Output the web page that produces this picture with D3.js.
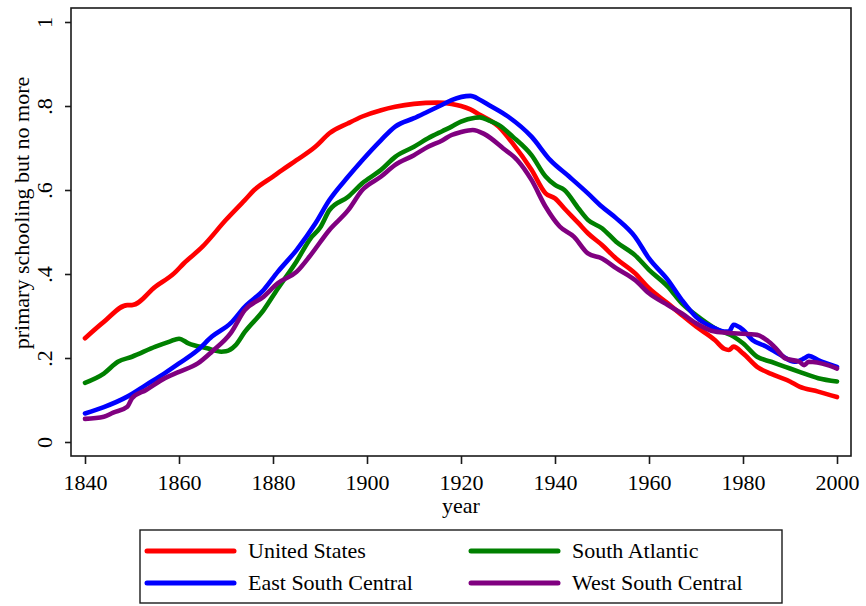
<!DOCTYPE html>
<html>
<head>
<meta charset="utf-8">
<script src="https://cdn.jsdelivr.net/npm/d3@7"></script>
<style>
  html, body { margin: 0; padding: 0; background: #fff; }
  svg { display: block; font-family: "Liberation Serif", "Times New Roman", serif; }
</style>
</head>
<body>
<svg id="chart" width="866" height="606"></svg>
<script>
// ---- data ----
const usYears = [1840,1844,1849,1850,1855,1859,1861,1865,1870,1874,1876,1880,1882,1885,1889,1892,1896,1899,1903,1906,1910,1915,1918,1920,1922,1924,1928,1931,1935,1938,1940,1942,1945,1947,1950,1953,1957,1960,1964,1967,1970,1974,1976,1977,1978,1980,1983,1986,1990,1992,1996,2000];
const usValues = [.247,.286,.326,.326,.37,.402,.425,.465,.529,.576,.60,.632,.648,.671,.703,.735,.759,.775,.79,.798,.805,.808,.805,.80,.792,.779,.751,.711,.648,.592,.58,.556,.521,.497,.469,.437,.402,.366,.33,.302,.275,.243,.222,.219,.227,.211,.179,.162,.144,.132,.12,.107];

const saYears = [1840,1844,1847,1850,1855,1858,1860,1862,1866,1869,1870,1872,1874,1878,1881,1885,1888,1890,1892,1896,1899,1903,1906,1910,1913,1916,1918,1920,1923,1924,1926,1928,1931,1935,1938,1940,1942,1945,1947,1950,1953,1957,1960,1964,1967,1970,1974,1978,1980,1983,1986,1989,1992,1996,2000];
const saValues = [.141,.163,.191,.203,.227,.239,.246,.235,.223,.215,.216,.23,.262,.314,.365,.43,.485,.51,.552,.584,.616,.648,.679,.703,.723,.74,.751,.763,.772,.773,.765,.755,.727,.683,.632,.612,.6,.556,.529,.509,.477,.445,.41,.37,.33,.302,.271,.251,.235,.203,.191,.179,.167,.152,.144];

const escYears = [1840,1844,1849,1853,1857,1860,1864,1867,1871,1874,1878,1881,1885,1889,1892,1896,1899,1903,1906,1910,1913,1916,1918,1922,1924,1926,1930,1935,1939,1943,1947,1950,1953,1957,1960,1964,1967,1970,1974,1976,1977,1978,1980,1982,1985,1988,1991,1993,1994,1996,2000];
const escValues = [.068,.083,.108,.136,.164,.187,.219,.251,.283,.322,.362,.405,.457,.52,.576,.632,.671,.719,.751,.771,.787,.803,.814,.824,.815,.802,.775,.727,.671,.632,.592,.56,.533,.489,.437,.386,.338,.298,.271,.263,.263,.279,.267,.243,.227,.207,.191,.199,.205,.195,.179];

const wscYears = [1840,1844,1846,1849,1850,1853,1857,1860,1864,1867,1871,1874,1878,1881,1885,1888,1892,1896,1899,1903,1906,1910,1913,1916,1918,1920,1922.5,1925,1929,1932,1935,1938,1941,1944,1947,1950,1953,1957,1960,1964,1967,1970,1974,1978,1983,1985,1987,1989,1992,1993,1994,1998,2000];
const wscValues = [.055,.06,.07,.084,.104,.124,.152,.167,.187,.215,.259,.314,.346,.378,.405,.445,.505,.552,.6,.632,.66,.683,.703,.718,.731,.738,.743,.733,.699,.671,.624,.56,.513,.489,.449,.437,.414,.386,.354,.326,.306,.283,.263,.259,.255,.243,.223,.199,.191,.183,.191,.183,.175];

const seriesNames = ["United States", "South Atlantic", "East South Central", "West South Central"];
const seriesColors = ["#ff0000", "#008000", "#0000ff", "#800080"];
const xTicks = [1840, 1860, 1880, 1900, 1920, 1940, 1960, 1980, 2000];
const yTicks = [0, 0.2, 0.4, 0.6, 0.8, 1];
const yTickLabels = ["0", ".2", ".4", ".6", ".8", "1"];
const xTitle = "year";
const yTitle = "primary schooling but no more";

// ---- build ----
const series = [
  {name: seriesNames[0], color: seriesColors[0], pts: usYears.map((y, i) => [y, usValues[i]])},
  {name: seriesNames[1], color: seriesColors[1], pts: saYears.map((y, i) => [y, saValues[i]])},
  {name: seriesNames[2], color: seriesColors[2], pts: escYears.map((y, i) => [y, escValues[i]])},
  {name: seriesNames[3], color: seriesColors[3], pts: wscYears.map((y, i) => [y, wscValues[i]])}
];

const svg = d3.select("#chart");
const frame = {left: 71, right: 851, top: 8, bottom: 456};
const x = d3.scaleLinear().domain([1840, 2000]).range([85, 837]);
const y = d3.scaleLinear().domain([0, 1]).range([442, 22]);
const fontSize = 22;

svg.append("rect").attr("x", 0).attr("y", 0).attr("width", 866).attr("height", 606).attr("fill", "#fff");

// lines
const line = d3.line().x(d => x(d[0])).y(d => y(d[1])).curve(d3.curveMonotoneX);
[0, 1, 2, 3].forEach(i => {
  svg.append("path")
    .datum(series[i].pts)
    .attr("d", line)
    .attr("fill", "none")
    .attr("stroke", series[i].color)
    .attr("stroke-width", 4.6)
    .attr("stroke-linejoin", "round")
    .attr("stroke-linecap", "round");
});

// frame
svg.append("rect")
  .attr("x", frame.left).attr("y", frame.top)
  .attr("width", frame.right - frame.left).attr("height", frame.bottom - frame.top)
  .attr("fill", "none").attr("stroke", "#1a1a1a").attr("stroke-width", 1.6);

// y axis
const yAxis = d3.axisLeft(y).tickValues(yTicks).tickSize(6).tickFormat((d, i) => yTickLabels[i]);
const gy = svg.append("g").attr("transform", `translate(${frame.left},0)`).call(yAxis);
gy.select(".domain").remove();
gy.selectAll(".tick line").attr("stroke", "#1a1a1a").attr("stroke-width", 1.6);
gy.selectAll(".tick text")
  .attr("x", 0).attr("dy", null)
  .attr("font-size", fontSize).attr("fill", "#000")
  .attr("font-family", "Liberation Serif, Times New Roman, serif")
  .attr("text-anchor", "middle")
  .attr("transform", "translate(-19,0) rotate(-90)");

// x axis
const xAxis = d3.axisBottom(x).tickValues(xTicks).tickSize(8).tickFormat(d3.format("d"));
const gx = svg.append("g").attr("transform", `translate(0,${frame.bottom})`).call(xAxis);
gx.select(".domain").remove();
gx.selectAll(".tick line").attr("stroke", "#1a1a1a").attr("stroke-width", 1.6);
gx.selectAll(".tick text")
  .attr("y", 34).attr("dy", null)
  .attr("font-size", fontSize).attr("fill", "#000")
  .attr("font-family", "Liberation Serif, Times New Roman, serif");

// titles
svg.append("text").attr("x", 461).attr("y", 513).attr("text-anchor", "middle")
  .attr("font-size", fontSize).text(xTitle);
svg.append("text").attr("transform", "translate(29,213) rotate(-90)").attr("text-anchor", "middle")
  .attr("font-size", fontSize).text(yTitle);

// legend
const legend = {x: 140, y: 530, w: 642, h: 73};
svg.append("rect").attr("x", legend.x).attr("y", legend.y).attr("width", legend.w).attr("height", legend.h)
  .attr("fill", "#fff").attr("stroke", "#1a1a1a").attr("stroke-width", 1.4);
const colX = [147, 471];
const rowY = [551, 583];
[0, 1, 2, 3].forEach((si, k) => {
  const cx = colX[k % 2], cy = rowY[Math.floor(k / 2)];
  svg.append("line").attr("x1", cx).attr("x2", cx + 87).attr("y1", cy).attr("y2", cy)
    .attr("stroke", series[si].color).attr("stroke-width", 5).attr("stroke-linecap", "round");
  svg.append("text").attr("x", cx + 101).attr("y", cy + 7).attr("font-size", fontSize)
    .text(series[si].name);
});
</script>
</body>
</html>
